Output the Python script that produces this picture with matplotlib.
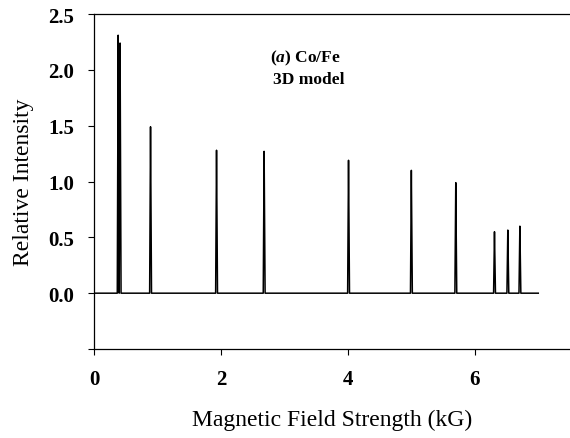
import numpy as np
import matplotlib.pyplot as plt

# peak positions (kG) and relative intensities
peak_field = [0.38, 0.41, 0.89, 1.93, 2.68, 4.01, 5.00, 5.70, 6.31, 6.52, 6.71]
peak_height = [2.31, 2.24, 1.49, 1.28, 1.27, 1.19, 1.10, 0.99, 0.55, 0.565, 0.60]
field_max = 7.0
half_width = 0.014

y_ticks = [-0.5, 0.0, 0.5, 1.0, 1.5, 2.0, 2.5]
y_tick_labels = ['', '0.0', '0.5', '1.0', '1.5', '2.0', '2.5']
x_ticks = [0, 2, 4, 6]

plt.rcParams['font.family'] = ['Liberation Serif', 'DejaVu Serif']
plt.rcParams['mathtext.fontset'] = 'custom'
plt.rcParams['mathtext.it'] = 'Liberation Serif:italic:bold'

# spectrum: narrow triangular lines on a zero baseline
x = np.linspace(0, field_max, 14001)
y = np.zeros_like(x)
for p, h in zip(peak_field, peak_height):
    y = np.maximum(y, h * np.clip(1 - np.abs(x - p) / half_width, 0, None))

fig = plt.figure(figsize=(5.70, 4.39), dpi=100)
ax = fig.add_axes([0.165, 0.2027, 0.835, 0.7631])
ax.plot(x, y, color='black', lw=1.1)

ax.set_xlim(0, 7.5)
ax.set_ylim(-0.5, 2.5)
ax.set_xticks(x_ticks)
ax.set_yticks(y_ticks)
ax.set_yticklabels(y_tick_labels)
ax.spines['right'].set_visible(False)
for s in ax.spines.values():
    s.set_linewidth(0.9)
ax.tick_params(direction='out', length=4.5, width=0.8, labelsize=15, pad=10)
for lab in ax.get_xticklabels() + ax.get_yticklabels():
    lab.set_fontweight('bold')

ax.set_xlabel('Magnetic Field Strength (kG)', fontsize=17, labelpad=14)
ax.set_ylabel('Relative Intensity', fontsize=17, labelpad=10)

ax.text(2.78, 2.115, r'($a$) Co/Fe', fontsize=12.5, fontweight='bold', va='center')
ax.text(2.82, 1.92, '3D model', fontsize=12.5, fontweight='bold', va='center')

fig.savefig('out.png', dpi=100)
